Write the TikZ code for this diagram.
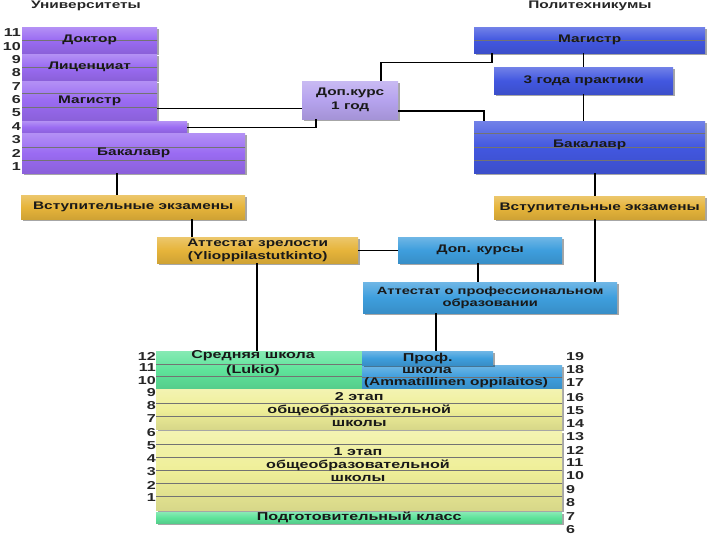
\documentclass[tikz,border=0pt]{standalone}
\usepackage{fontspec}
\setmainfont{Liberation Sans}[FakeStretch=1.4]
\usetikzlibrary{shadows,calc}
\definecolor{univ}{HTML}{9A6BF2}
\definecolor{pblue}{HTML}{4257E0}
\definecolor{lav}{HTML}{B6A3EE}
\definecolor{gold}{HTML}{E6B43A}
\definecolor{lblue}{HTML}{3E9EDD}
\definecolor{sgreen}{HTML}{5EE39A}
\definecolor{yel}{HTML}{EFEF98}
\tikzset{
  blk/.style={anchor=north west, inner sep=0pt, align=center, text=black!90,
    font=\bfseries\fontsize{11}{13}\selectfont,
    drop shadow={shadow xshift=1.5pt, shadow yshift=-1.5pt, opacity=0.35, fill=black}},
  sh/.style={top color=#1!75!white, bottom color=#1!90!black, middle color=#1},
  rows/.style={path picture={\foreach \yy in {#1}
      \draw[black!55, line width=0.6pt] (path picture bounding box.north west) ++(0,\yy) -- ++(1000,0);}},
  big/.style={font=\bfseries\fontsize{11.5}{13}\selectfont},
  txt/.style={inner sep=0pt, align=center, text=black!90, font=\bfseries\fontsize{11.5}{13}\selectfont},
  num/.style={inner sep=0pt, text=black!85, font=\bfseries\fontsize{11.5}{12}\selectfont},
  ttl/.style={inner sep=0pt, text=black!85, font=\bfseries\fontsize{11}{13}\selectfont},
  con/.style={draw=black, line width=1.3pt},
}
\begin{document}
\begin{tikzpicture}[x=1pt, y=-1pt]
\useasboundingbox (0,0) rectangle (720,540);
% titles
\node[ttl] (tu) at (86,6) {Университеты};
\node[ttl] (tp) at (590,6) {Политехникумы};
% universities
\node[blk, sh=univ, rows={13}, minimum width=135pt, minimum height=26pt] (doc) at (22,27) {Доктор};
\node[blk, sh=univ, rows={13}, minimum width=135pt, minimum height=26pt] (lic) at (22,54) {Лиценциат};
\node[blk, sh=univ, rows={12,26}, minimum width=135pt, minimum height=39pt] (mag) at (22,81) {Магистр};
\node[blk, sh=univ, minimum width=165pt, minimum height=12pt] (r4) at (22,121) {};
\node[blk, sh=univ, rows={14,27}, minimum width=223pt, minimum height=40pt] (bach) at (22,133) {Бакалавр};
\foreach \n/\yy in {11/33,10/47,9/60,8/73,7/87,6/100,5/113,4/127,3/140,2/153,1/167}
  \node[num, anchor=east] (u\n) at (21,\yy) {\n};
% polytechnics
\node[blk, sh=pblue, rows={13}, minimum width=231pt, minimum height=26pt] (pmag) at (474,27) {Магистр};
\node[blk, sh=pblue, minimum width=179pt, minimum height=27pt] (p3) at (494,67) {3 года практики};
\node[blk, sh=pblue, rows={12,26,39}, minimum width=231pt, minimum height=52pt] (pbach) at (474,121) {\raisebox{7pt}{Бакалавр}};
\node[blk, sh=lav, minimum width=96pt, minimum height=38pt, font=\bfseries\fontsize{11}{14}\selectfont] (dop1) at (302,81) {Доп.курс\\1 год};
% exams etc
\node[blk, sh=gold, minimum width=224pt, minimum height=24pt] (ve1) at (21,195) {Вступительные экзамены};
\node[blk, sh=gold, minimum width=211pt, minimum height=23pt] (ve2) at (494,196) {Вступительные экзамены};
\node[blk, sh=gold, minimum width=201pt, minimum height=26pt] (att) at (157,237) {Аттестат зрелости\\(Ylioppilastutkinto)};
\node[blk, sh=lblue, minimum width=164pt, minimum height=26pt] (dopk) at (398,237) {Доп. курсы};
\node[blk, sh=lblue, minimum width=254pt, minimum height=31pt, font=\bfseries\fontsize{10.5}{12}\selectfont] (atp) at (363,282) {Аттестат о профессиональном\\образовании};
% schools
\node[blk, sh=sgreen, rows={13,25}, minimum width=206pt, minimum height=38pt] (sred) at (156,351) {};
\node[txt, font=\bfseries\fontsize{11.5}{15}\selectfont] (tsred) at (253,363) {Средняя школа\\(Lukio)};
\node[blk, sh=lblue, minimum width=200pt, minimum height=24pt, rows={12}] (profb) at (362,365) {};
\node[blk, big, sh=lblue, minimum width=131pt, minimum height=14pt] (proft) at (362,351) {Проф.};
\node[txt] (tprof2) at (427,370) {школа};
\node[txt, font=\bfseries\fontsize{11}{13}\selectfont] (tprof3) at (456,383) {(Ammatillinen oppilaitos)};
\node[blk, big, sh=yel, rows={14,27}, minimum width=406pt, minimum height=40pt] (e2) at (156,389) {2 этап\\общеобразовательной\\школы};
\node[blk, sh=yel, rows={13,26,39,52,65}, minimum width=406pt, minimum height=79pt] (e1) at (156,431) {};
\node[txt] (te1) at (358,465) {1 этап\\общеобразовательной\\школы};
\node[blk, big, sh=sgreen, minimum width=406pt, minimum height=11pt] (prep) at (156,512) {Подготовительный класс};
\foreach \n/\yy in {12/356,11/368,10/381,9/393,8/406,7/419,6/433,5/446,4/459,3/472,2/485,1/498}
  \node[num, anchor=east] (l\n) at (156,\yy) {\n};
\foreach \n/\yy in {19/357,18/370,17/383,16/398,15/411,14/424,13/437,12/450,11/463,10/476,9/490,8/503,7/517,6/530}
  \node[num, anchor=west] (r\n) at (566,\yy) {\n};
% connectors
\draw[con] ([yshift=12pt]mag.south east) coordinate (c1) -- (c1 -| dop1.west);
\draw[con] (r4.east) -| ([xshift=14pt]dop1.south west);
\draw[con] ([xshift=18pt]pmag.south west) -- ++(0,9) -| ([xshift=79pt]dop1.north west);
\draw[con] (p3.north) -- (p3.north |- pmag.south);
\draw[con] (p3.south) -- (p3.south |- pbach.north);
\draw[con] ([yshift=-30pt]dop1.north east) -| ([xshift=10pt]pbach.north west);
\draw[con] ([xshift=95pt]bach.south west) coordinate (c2) -- (c2 |- ve1.north);
\draw[con] ([xshift=35pt]att.north west) coordinate (c3) -- (c3 |- ve1.south);
\draw[con] ([xshift=100pt]att.south west) coordinate (c4) -- (c4 |- sred.north);
\draw[con] (att.east) -- (dopk.west);
\draw[con] ([xshift=121pt]pbach.south west) coordinate (c5) -- (c5 |- ve2.north);
\draw[con] ([xshift=101pt]ve2.south west) coordinate (c6) -- (c6 |- atp.north);
\draw[con] ([xshift=80pt]dopk.south west) coordinate (c7) -- (c7 |- atp.north);
\draw[con] ([xshift=73pt]atp.south west) coordinate (c8) -- (c8 |- proft.north);
\end{tikzpicture}
\end{document}
